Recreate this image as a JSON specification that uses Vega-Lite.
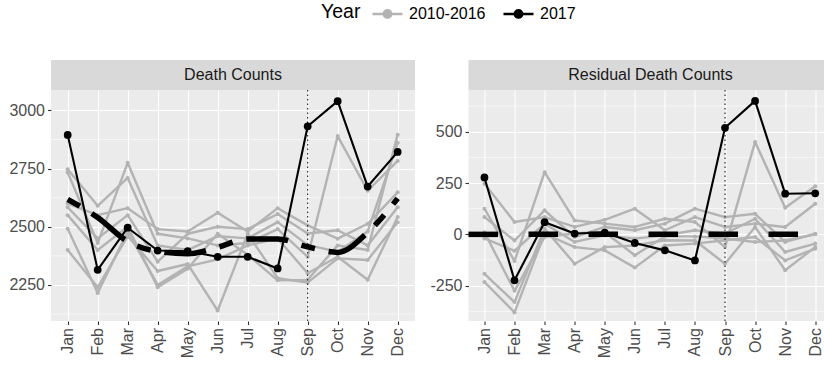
{
  "$schema": "https://vega.github.io/schema/vega-lite/v6.json",
  "background": "white",
  "padding": {"left": 8, "top": 2, "right": 0, "bottom": 0},
  "datasets": {
    "deaths": [
      {"year": 2010, "group": "2010-2016", "month": 1, "count": 2747, "resid": 247},
      {"year": 2010, "group": "2010-2016", "month": 2, "count": 2590, "resid": 60},
      {"year": 2010, "group": "2010-2016", "month": 3, "count": 2710, "resid": 84},
      {"year": 2010, "group": "2010-2016", "month": 4, "count": 2420, "resid": 36},
      {"year": 2010, "group": "2010-2016", "month": 5, "count": 2400, "resid": 71},
      {"year": 2010, "group": "2010-2016", "month": 6, "count": 2460, "resid": 125},
      {"year": 2010, "group": "2010-2016", "month": 7, "count": 2450, "resid": 20},
      {"year": 2010, "group": "2010-2016", "month": 8, "count": 2520, "resid": 84},
      {"year": 2010, "group": "2010-2016", "month": 9, "count": 2421, "resid": 36},
      {"year": 2010, "group": "2010-2016", "month": 10, "count": 2393, "resid": 52},
      {"year": 2010, "group": "2010-2016", "month": 11, "count": 2480, "resid": 36},
      {"year": 2010, "group": "2010-2016", "month": 12, "count": 2861, "resid": 149},
      {"year": 2011, "group": "2010-2016", "month": 1, "count": 2733, "resid": 125},
      {"year": 2011, "group": "2010-2016", "month": 2, "count": 2430, "resid": -130},
      {"year": 2011, "group": "2010-2016", "month": 3, "count": 2775, "resid": 303},
      {"year": 2011, "group": "2010-2016", "month": 4, "count": 2470, "resid": 68},
      {"year": 2011, "group": "2010-2016", "month": 5, "count": 2450, "resid": 52},
      {"year": 2011, "group": "2010-2016", "month": 6, "count": 2420, "resid": 36},
      {"year": 2011, "group": "2010-2016", "month": 7, "count": 2430, "resid": 76},
      {"year": 2011, "group": "2010-2016", "month": 8, "count": 2490, "resid": 60},
      {"year": 2011, "group": "2010-2016", "month": 9, "count": 2371, "resid": -62},
      {"year": 2011, "group": "2010-2016", "month": 10, "count": 2890, "resid": 450},
      {"year": 2011, "group": "2010-2016", "month": 11, "count": 2655, "resid": 130},
      {"year": 2011, "group": "2010-2016", "month": 12, "count": 2783, "resid": 234},
      {"year": 2012, "group": "2010-2016", "month": 1, "count": 2600, "resid": 84},
      {"year": 2012, "group": "2010-2016", "month": 2, "count": 2550, "resid": -30},
      {"year": 2012, "group": "2010-2016", "month": 3, "count": 2580, "resid": 117},
      {"year": 2012, "group": "2010-2016", "month": 4, "count": 2490, "resid": -13},
      {"year": 2012, "group": "2010-2016", "month": 5, "count": 2480, "resid": 36},
      {"year": 2012, "group": "2010-2016", "month": 6, "count": 2560, "resid": 20},
      {"year": 2012, "group": "2010-2016", "month": 7, "count": 2480, "resid": 52},
      {"year": 2012, "group": "2010-2016", "month": 8, "count": 2580, "resid": 125},
      {"year": 2012, "group": "2010-2016", "month": 9, "count": 2506, "resid": 84},
      {"year": 2012, "group": "2010-2016", "month": 10, "count": 2449, "resid": 100},
      {"year": 2012, "group": "2010-2016", "month": 11, "count": 2513, "resid": -37},
      {"year": 2012, "group": "2010-2016", "month": 12, "count": 2648, "resid": 3},
      {"year": 2013, "group": "2010-2016", "month": 1, "count": 2584, "resid": -20},
      {"year": 2013, "group": "2010-2016", "month": 2, "count": 2450, "resid": -80},
      {"year": 2013, "group": "2010-2016", "month": 3, "count": 2550, "resid": 52},
      {"year": 2013, "group": "2010-2016", "month": 4, "count": 2350, "resid": -37},
      {"year": 2013, "group": "2010-2016", "month": 5, "count": 2470, "resid": -5},
      {"year": 2013, "group": "2010-2016", "month": 6, "count": 2500, "resid": -21},
      {"year": 2013, "group": "2010-2016", "month": 7, "count": 2490, "resid": -5},
      {"year": 2013, "group": "2010-2016", "month": 8, "count": 2555, "resid": 20},
      {"year": 2013, "group": "2010-2016", "month": 9, "count": 2471, "resid": 3},
      {"year": 2013, "group": "2010-2016", "month": 10, "count": 2485, "resid": 76},
      {"year": 2013, "group": "2010-2016", "month": 11, "count": 2420, "resid": -86},
      {"year": 2013, "group": "2010-2016", "month": 12, "count": 2584, "resid": -45},
      {"year": 2014, "group": "2010-2016", "month": 1, "count": 2492, "resid": -192},
      {"year": 2014, "group": "2010-2016", "month": 2, "count": 2215, "resid": -330},
      {"year": 2014, "group": "2010-2016", "month": 3, "count": 2480, "resid": 28},
      {"year": 2014, "group": "2010-2016", "month": 4, "count": 2250, "resid": -143},
      {"year": 2014, "group": "2010-2016", "month": 5, "count": 2330, "resid": -62},
      {"year": 2014, "group": "2010-2016", "month": 6, "count": 2360, "resid": -54},
      {"year": 2014, "group": "2010-2016", "month": 7, "count": 2420, "resid": -29},
      {"year": 2014, "group": "2010-2016", "month": 8, "count": 2450, "resid": -30},
      {"year": 2014, "group": "2010-2016", "month": 9, "count": 2300, "resid": -143},
      {"year": 2014, "group": "2010-2016", "month": 10, "count": 2371, "resid": 36},
      {"year": 2014, "group": "2010-2016", "month": 11, "count": 2272, "resid": -175},
      {"year": 2014, "group": "2010-2016", "month": 12, "count": 2542, "resid": -62},
      {"year": 2015, "group": "2010-2016", "month": 1, "count": 2400, "resid": -232},
      {"year": 2015, "group": "2010-2016", "month": 2, "count": 2240, "resid": -380},
      {"year": 2015, "group": "2010-2016", "month": 3, "count": 2460, "resid": 3},
      {"year": 2015, "group": "2010-2016", "month": 4, "count": 2310, "resid": -62},
      {"year": 2015, "group": "2010-2016", "month": 5, "count": 2340, "resid": -78},
      {"year": 2015, "group": "2010-2016", "month": 6, "count": 2140, "resid": -162},
      {"year": 2015, "group": "2010-2016", "month": 7, "count": 2470, "resid": -54},
      {"year": 2015, "group": "2010-2016", "month": 8, "count": 2279, "resid": -45},
      {"year": 2015, "group": "2010-2016", "month": 9, "count": 2260, "resid": -29},
      {"year": 2015, "group": "2010-2016", "month": 10, "count": 2364, "resid": -13},
      {"year": 2015, "group": "2010-2016", "month": 11, "count": 2357, "resid": -127},
      {"year": 2015, "group": "2010-2016", "month": 12, "count": 2520, "resid": -70},
      {"year": 2016, "group": "2010-2016", "month": 1, "count": 2550, "resid": 10},
      {"year": 2016, "group": "2010-2016", "month": 2, "count": 2400, "resid": -275},
      {"year": 2016, "group": "2010-2016", "month": 3, "count": 2500, "resid": -13},
      {"year": 2016, "group": "2010-2016", "month": 4, "count": 2240, "resid": 5},
      {"year": 2016, "group": "2010-2016", "month": 5, "count": 2320, "resid": 10},
      {"year": 2016, "group": "2010-2016", "month": 6, "count": 2470, "resid": -102},
      {"year": 2016, "group": "2010-2016", "month": 7, "count": 2380, "resid": -10},
      {"year": 2016, "group": "2010-2016", "month": 8, "count": 2270, "resid": -10},
      {"year": 2016, "group": "2010-2016", "month": 9, "count": 2272, "resid": -20},
      {"year": 2016, "group": "2010-2016", "month": 10, "count": 2420, "resid": -37},
      {"year": 2016, "group": "2010-2016", "month": 11, "count": 2400, "resid": -30},
      {"year": 2016, "group": "2010-2016", "month": 12, "count": 2896, "resid": 0},
      {"year": 2017, "group": "2017", "month": 1, "count": 2895, "resid": 277},
      {"year": 2017, "group": "2017", "month": 2, "count": 2315, "resid": -224},
      {"year": 2017, "group": "2017", "month": 3, "count": 2496, "resid": 59},
      {"year": 2017, "group": "2017", "month": 4, "count": 2398, "resid": 4},
      {"year": 2017, "group": "2017", "month": 5, "count": 2395, "resid": 9},
      {"year": 2017, "group": "2017", "month": 6, "count": 2371, "resid": -42},
      {"year": 2017, "group": "2017", "month": 7, "count": 2371, "resid": -78},
      {"year": 2017, "group": "2017", "month": 8, "count": 2321, "resid": -127},
      {"year": 2017, "group": "2017", "month": 9, "count": 2932, "resid": 519},
      {"year": 2017, "group": "2017", "month": 10, "count": 3040, "resid": 650},
      {"year": 2017, "group": "2017", "month": 11, "count": 2673, "resid": 198},
      {"year": 2017, "group": "2017", "month": 12, "count": 2822, "resid": 200}
    ],
    "trend": [
      {"month": 1, "expected": 2618},
      {"month": 2, "expected": 2540},
      {"month": 3, "expected": 2437},
      {"month": 4, "expected": 2394},
      {"month": 5, "expected": 2384},
      {"month": 6, "expected": 2412},
      {"month": 7, "expected": 2448},
      {"month": 8, "expected": 2448},
      {"month": 9, "expected": 2414},
      {"month": 10, "expected": 2390},
      {"month": 11, "expected": 2476},
      {"month": 12, "expected": 2622}
    ]
  },
  "bounds": "full",
  "spacing": 13.5,
  "resolve": {"scale": {"color": "shared"}, "legend": {"color": "shared"}},
  "hconcat": [
    {
      "bounds": "flush",
      "spacing": 0,
      "vconcat": [
        {
          "width": 364,
          "height": 30,
          "view": {"fill": "#d9d9d9", "stroke": null},
          "data": {"values": [{"panel": "Death Counts"}]},
          "mark": {"type": "text", "fontSize": 16, "color": "#1a1a1a", "baseline": "middle", "align": "center"},
          "encoding": {"text": {"field": "panel"}}
        },
        {
          "width": 364,
          "height": 231,
          "view": {"fill": "#ebebeb", "stroke": null},
          "layer": [
            {
              "data": {"values": [{"g": 2125}, {"g": 2375}, {"g": 2625}, {"g": 2875}]},
              "mark": {"type": "rule", "stroke": "white", "strokeWidth": 0.6},
              "encoding": {
                "y": {
                  "field": "g", "type": "quantitative",
                  "scale": {"domain": [2095, 3088], "nice": false, "zero": false},
                  "axis": {"values": [2250, 2500, 2750, 3000], "tickCount": 10, "labelExpr": "'' + datum.value", "title": null}
                }
              }
            },
            {
              "data": {"name": "deaths"},
              "transform": [{"filter": "datum.group == '2010-2016'"}],
              "mark": {"type": "line", "strokeWidth": 2.4, "strokeJoin": "round", "strokeCap": "round"},
              "encoding": {
                "x": {
                  "field": "month", "type": "quantitative",
                  "scale": {"domain": [0.444, 12.578], "nice": false, "zero": false},
                  "axis": {
                    "values": [1, 2, 3, 4, 5, 6, 7, 8, 9, 10, 11, 12],
                    "tickCount": 24,
                    "labelExpr": "['Jan','Feb','Mar','Apr','May','Jun','Jul','Aug','Sep','Oct','Nov','Dec'][datum.value - 1]",
                    "labelAngle": 270, "labelAlign": "right", "labelBaseline": "middle",
                    "title": null
                  }
                },
                "y": {"field": "count", "type": "quantitative"},
                "color": {
                  "field": "group", "type": "nominal",
                  "scale": {"domain": ["2010-2016", "2017"], "range": ["#b3b3b3", "#000000"]},
                  "legend": {
                    "orient": "none", "legendX": 270, "legendY": -58,
                    "direction": "horizontal", "title": "Year", "titleOrient": "left",
                    "symbolType": "M-1.5,0H1.5M-0.37,0A0.37,0.37,0,1,0,0.37,0A0.37,0.37,0,1,0,-0.37,0Z",
                    "symbolSize": 400, "symbolStrokeWidth": 2.5,
                    "titlePadding": 15, "labelOffset": 10, "columnPadding": 12,
                    "encode": {"symbols": {"update": {"fill": {"scale": "color", "field": "value"}, "stroke": {"scale": "color", "field": "value"}}}}
                  }
                },
                "detail": {"field": "year", "type": "nominal"}
              }
            },
            {
              "data": {"name": "deaths"},
              "transform": [{"filter": "datum.group == '2010-2016'"}],
              "mark": {"type": "point", "filled": true, "size": 16, "opacity": 1},
              "encoding": {
                "x": {"field": "month", "type": "quantitative"},
                "y": {"field": "count", "type": "quantitative"},
                "color": {"field": "group", "type": "nominal"}
              }
            },
            {
              "data": {"name": "trend"},
              "mark": {"type": "line", "color": "black", "strokeWidth": 5.5, "strokeDash": [14, 14, 42, 14], "strokeCap": "butt", "interpolate": "monotone"},
              "encoding": {
                "x": {"field": "month", "type": "quantitative"},
                "y": {"field": "expected", "type": "quantitative"}
              }
            },
            {
              "data": {"values": [{}]},
              "mark": {"type": "rule", "color": "#222222", "strokeWidth": 1.1, "strokeDash": [1.5, 3]},
              "encoding": {"x": {"datum": 9, "type": "quantitative"}}
            },
            {
              "data": {"name": "deaths"},
              "transform": [{"filter": "datum.group == '2017'"}],
              "mark": {"type": "line", "strokeWidth": 2.1, "strokeJoin": "round"},
              "encoding": {
                "x": {"field": "month", "type": "quantitative"},
                "y": {"field": "count", "type": "quantitative"},
                "color": {"field": "group", "type": "nominal"}
              }
            },
            {
              "data": {"name": "deaths"},
              "transform": [{"filter": "datum.group == '2017'"}],
              "mark": {"type": "point", "filled": true, "size": 60, "opacity": 1},
              "encoding": {
                "x": {"field": "month", "type": "quantitative"},
                "y": {"field": "count", "type": "quantitative"},
                "color": {"field": "group", "type": "nominal"}
              }
            }
          ]
        }
      ]
    },
    {
      "bounds": "flush",
      "spacing": 0,
      "vconcat": [
        {
          "width": 358,
          "height": 30,
          "view": {"fill": "#d9d9d9", "stroke": null},
          "data": {"values": [{"panel": "Residual Death Counts"}]},
          "mark": {"type": "text", "fontSize": 16, "color": "#1a1a1a", "baseline": "middle", "align": "center", "dx": 3},
          "encoding": {"text": {"field": "panel"}}
        },
        {
          "width": 358,
          "height": 231,
          "view": {"fill": "#ebebeb", "stroke": null},
          "layer": [
            {
              "data": {"values": [{"g": -375}, {"g": -125}, {"g": 125}, {"g": 375}, {"g": 625}]},
              "mark": {"type": "rule", "stroke": "white", "strokeWidth": 0.6},
              "encoding": {
                "y": {
                  "field": "g", "type": "quantitative",
                  "scale": {"domain": [-422, 703], "nice": false, "zero": false},
                  "axis": {"values": [-250, 0, 250, 500], "tickCount": 10, "labelExpr": "'' + datum.value", "title": null}
                }
              }
            },
            {
              "data": {"name": "deaths"},
              "transform": [{"filter": "datum.group == '2010-2016'"}],
              "mark": {"type": "line", "strokeWidth": 2.4, "strokeJoin": "round", "strokeCap": "round"},
              "encoding": {
                "x": {
                  "field": "month", "type": "quantitative",
                  "scale": {"domain": [0.47, 12.375], "nice": false, "zero": false},
                  "axis": {
                    "values": [1, 2, 3, 4, 5, 6, 7, 8, 9, 10, 11, 12],
                    "tickCount": 24,
                    "labelExpr": "['Jan','Feb','Mar','Apr','May','Jun','Jul','Aug','Sep','Oct','Nov','Dec'][datum.value - 1]",
                    "labelAngle": 270, "labelAlign": "right", "labelBaseline": "middle",
                    "title": null
                  }
                },
                "y": {"field": "resid", "type": "quantitative"},
                "color": {"field": "group", "type": "nominal"},
                "detail": {"field": "year", "type": "nominal"}
              }
            },
            {
              "data": {"name": "deaths"},
              "transform": [{"filter": "datum.group == '2010-2016'"}],
              "mark": {"type": "point", "filled": true, "size": 16, "opacity": 1},
              "encoding": {
                "x": {"field": "month", "type": "quantitative"},
                "y": {"field": "resid", "type": "quantitative"},
                "color": {"field": "group", "type": "nominal"}
              }
            },
            {
              "data": {"values": [{}]},
              "mark": {"type": "rule", "color": "black", "strokeWidth": 5.5, "strokeDash": [29.5, 30.5], "strokeCap": "butt"},
              "encoding": {
                "x": {"datum": 0.47, "type": "quantitative"},
                "x2": {"datum": 12.375},
                "y": {"datum": 0, "type": "quantitative"}
              }
            },
            {
              "data": {"values": [{}]},
              "mark": {"type": "rule", "color": "#222222", "strokeWidth": 1.1, "strokeDash": [1.5, 3]},
              "encoding": {"x": {"datum": 9, "type": "quantitative"}}
            },
            {
              "data": {"name": "deaths"},
              "transform": [{"filter": "datum.group == '2017'"}],
              "mark": {"type": "line", "strokeWidth": 2.1, "strokeJoin": "round"},
              "encoding": {
                "x": {"field": "month", "type": "quantitative"},
                "y": {"field": "resid", "type": "quantitative"},
                "color": {"field": "group", "type": "nominal"}
              }
            },
            {
              "data": {"name": "deaths"},
              "transform": [{"filter": "datum.group == '2017'"}],
              "mark": {"type": "point", "filled": true, "size": 60, "opacity": 1},
              "encoding": {
                "x": {"field": "month", "type": "quantitative"},
                "y": {"field": "resid", "type": "quantitative"},
                "color": {"field": "group", "type": "nominal"}
              }
            }
          ]
        }
      ]
    }
  ],
  "config": {
    "font": "Liberation Sans",
    "view": {"stroke": null},
    "axis": {
      "domain": false,
      "grid": true,
      "gridColor": "white",
      "gridWidth": 1.1,
      "tickColor": "#333333",
      "tickSize": 3.5,
      "tickWidth": 1.1,
      "labelColor": "#4d4d4d",
      "labelFontSize": 16,
      "labelPadding": 3,
      "labelFlush": false,
      "labelOverlap": false
    },
    "legend": {
      "labelFontSize": 16,
      "labelColor": "#000000",
      "titleFontSize": 19.5,
      "titleFontWeight": "normal",
      "titleColor": "#000000"
    }
  }
}
